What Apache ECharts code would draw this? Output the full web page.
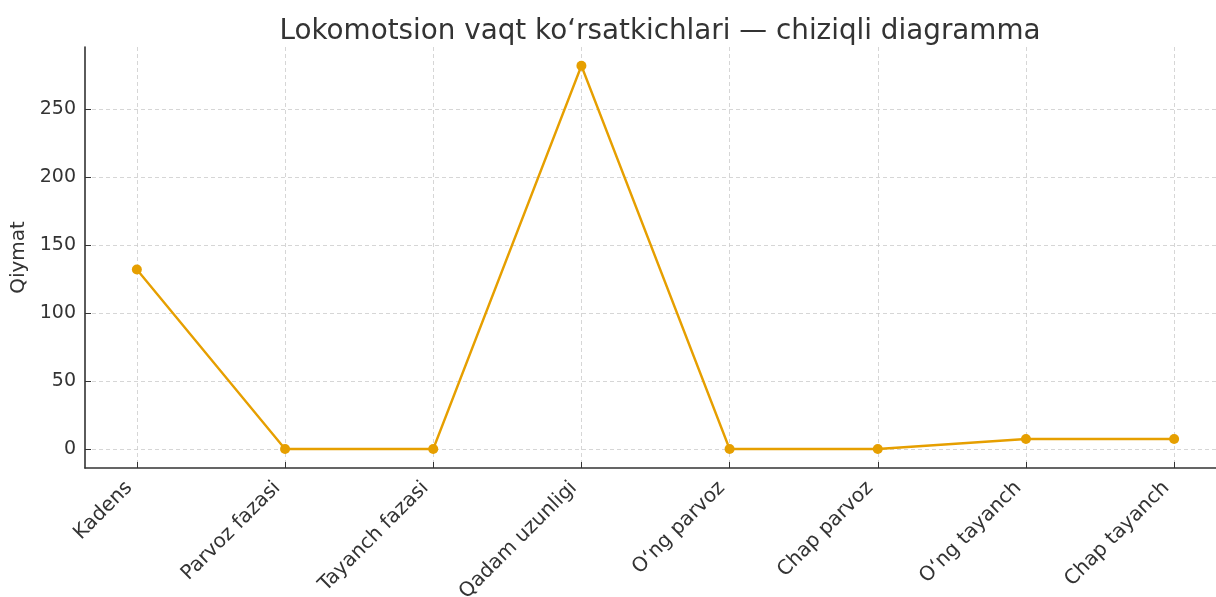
<!DOCTYPE html>
<html>
<head>
<meta charset="utf-8">
<script src="https://cdn.jsdelivr.net/npm/echarts@6/dist/echarts.min.js"></script>
<style>
  html, body { margin: 0; padding: 0; background: #fff; }
  #chart { width: 1216px; height: 597px; }
</style>
</head>
<body>
<div id="chart"></div>
<script>
var categories = ['Kadens', 'Parvoz fazasi', 'Tayanch fazasi', 'Qadam uzunligi',
	'O‘ng parvoz', 'Chap parvoz', 'O‘ng tayanch', 'Chap tayanch'];
var values = [132.1, 0, 0, 282.2, 0, 0, 7.4, 7.3];
var yTicks = [0, 50, 100, 150, 200, 250];
var xTicks = [0, 1, 2, 3, 4, 5, 6, 7];

var chart = echarts.init(document.getElementById('chart'));
var font = 'DejaVu Sans';
var gridLine = { show: true, lineStyle: { color: '#cccccc', type: [4, 3], width: 0.8 } };

chart.setOption({
	animation: false,
	title: {
		text: 'Lokomotsion vaqt ko‘rsatkichlari — chiziqli diagramma',
		left: 655, top: 13, textAlign: 'center',
		textStyle: { fontFamily: font, fontSize: 27.8, fontWeight: 'normal', color: '#333' }
	},
	grid: { left: 85, right: -10, top: 47, bottom: 129, outerBoundsMode: 'none', containLabel: false },
	xAxis: {
		type: 'value',
		min: -0.35, max: 7.35,
		axisLine: { show: true, onZero: false, lineStyle: { color: '#333', width: 1.6 } },
		axisTick: { show: true, inside: true, customValues: xTicks, length: 6, lineStyle: { color: '#333' } },
		axisLabel: {
			customValues: xTicks, rotate: 45, margin: 9, padding: [0, 11, 0, 0],
			fontFamily: font, fontSize: 20, color: '#333',
			formatter: function (v) { return categories[Math.round(v)]; }
		},
		splitLine: gridLine
	},
	yAxis: {
		type: 'value',
		min: -14, max: 296,
		name: 'Qiymat', nameLocation: 'middle', nameGap: 52,
		nameTextStyle: { fontFamily: font, fontSize: 20, color: '#333' },
		axisLine: { show: true, onZero: false, lineStyle: { color: '#333', width: 1.6 } },
		axisTick: { show: true, inside: true, customValues: yTicks, length: 6, lineStyle: { color: '#333' } },
		axisLabel: { customValues: yTicks, margin: 9, fontFamily: font, fontSize: 19, color: '#333' },
		splitLine: gridLine
	},
	series: [{
		type: 'line',
		data: values.map(function (v, i) { return [i, v]; }),
		symbol: 'circle', symbolSize: 10,
		itemStyle: { color: '#E69F00' },
		lineStyle: { color: '#E69F00', width: 2.4 }
	}]
});
</script>
</body>
</html>
